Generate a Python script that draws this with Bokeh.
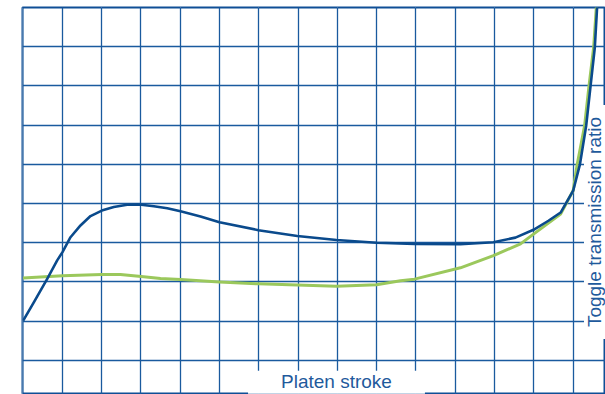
from bokeh.plotting import figure
from bokeh.models import Grid, FixedTicker, Range1d, Label
from bokeh.embed import file_html
from bokeh.resources import INLINE

# Data (grid units)
blue_x = [0.005, 0.275, 0.616, 0.870, 1.005, 1.209, 1.463, 1.718, 2.005, 2.31, 2.65, 2.906,
          3.008, 3.33, 3.67, 4.008, 4.517, 5.0, 5.99, 6.98, 7.977, 8.995, 9.962, 11.13,
          11.97, 12.53, 12.99, 13.37, 13.68, 14.0, 14.17, 14.33, 14.44, 14.55, 14.61]
blue_y = [2.01, 2.48, 3.08, 3.55, 3.76, 4.14, 4.44, 4.68, 4.82, 4.91, 4.97, 4.975,
          4.97, 4.93, 4.88, 4.80, 4.67, 4.52, 4.32, 4.17, 4.07, 4.0, 3.97, 3.965,
          4.01, 4.13, 4.33, 4.56, 4.77, 5.33, 5.99, 6.98, 7.98, 8.98, 10.03]

green_x = [0.0, 1.005, 2.0, 2.48, 3.008, 3.50, 4.008, 5.0, 5.99, 6.98, 7.977, 8.995, 9.606,
           9.962, 11.13, 11.97, 12.66, 12.99, 13.68, 14.0, 14.10, 14.29, 14.40, 14.52, 14.59]
green_y = [3.10, 3.16, 3.19, 3.19, 3.14, 3.09, 3.06, 3.0, 2.95, 2.92, 2.89, 2.93, 3.03,
           3.07, 3.36, 3.67, 3.97, 4.22, 4.73, 5.33, 5.99, 6.98, 7.98, 8.98, 10.03]

x_ticks = list(range(0, 16))
y_ticks = list(range(0, 11))
x_label = "Platen stroke"
y_label = "Toggle transmission ratio"

GRID = "#1a5a9e"
p = figure(width=605, height=394, output_backend="svg", toolbar_location=None,
           x_axis_location=None, y_axis_location=None,
           x_range=Range1d(-0.0127, 14.822), y_range=Range1d(0.128, 10.0),
           min_border_left=22, min_border_right=0, min_border_top=7, min_border_bottom=0)
p.outline_line_color = "#0f4f96"
p.outline_line_width = 2
p.background_fill_color = "white"
p.border_fill_color = "white"

gx = Grid(dimension=0, ticker=FixedTicker(ticks=x_ticks), grid_line_color=GRID, grid_line_width=1.3)
gy = Grid(dimension=1, ticker=FixedTicker(ticks=y_ticks), grid_line_color=GRID, grid_line_width=1.3)
p.add_layout(gx)
p.add_layout(gy)

lab_y = Label(x=14.275, y=4.528, text=y_label, angle=1.5708, text_align="center",
              text_baseline="top", text_font="Liberation Sans", text_font_size="19px",
              text_color="#1f5a9c", background_fill_color="white",
              padding=dict(left=12, right=12, top=0, bottom=0), level="underlay")
p.add_layout(lab_y)

p.line(green_x, green_y, line_color="#9bc85c", line_width=3, line_join="round")
p.line(blue_x, blue_y, line_color="#0a4a8c", line_width=2.6, line_join="round")

lab_x = Label(x=7.977, y=0.441, text=x_label, text_align="center", text_baseline="alphabetic",
              text_font="Liberation Sans", text_font_size="19px", text_color="#1f5a9c",
              background_fill_color="white",
              padding=dict(left=33, right=33, top=0, bottom=2))
p.add_layout(lab_x)

open("out.html", "w").write(file_html(p, INLINE))
